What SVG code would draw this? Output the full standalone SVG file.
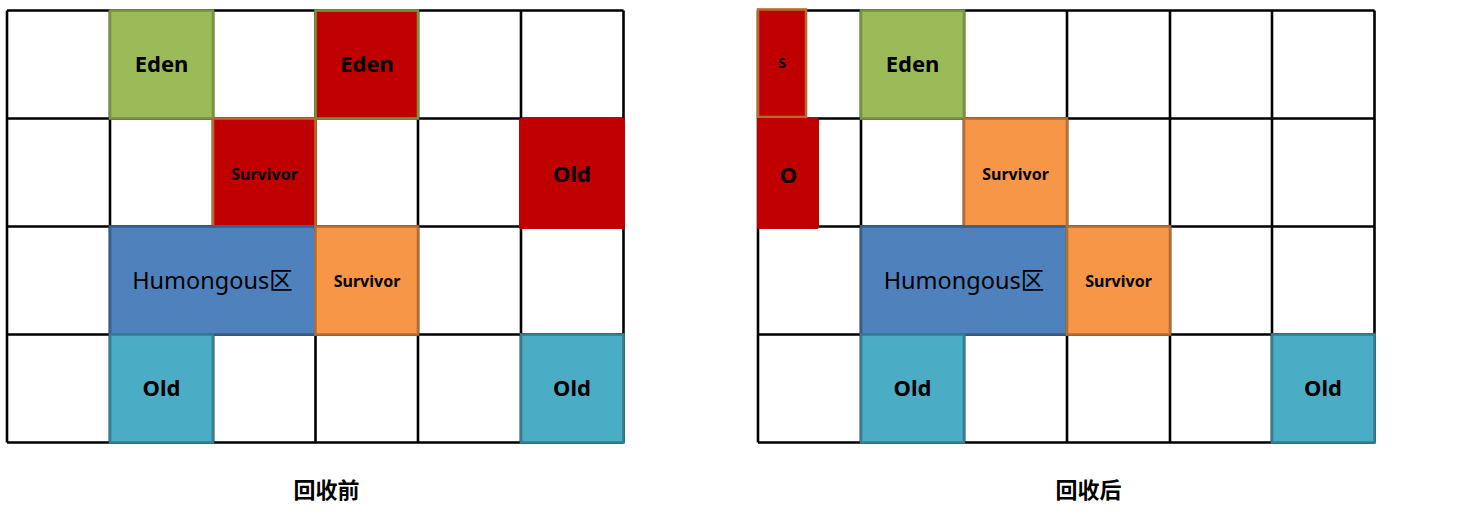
<svg xmlns="http://www.w3.org/2000/svg" width="1457" height="515" viewBox="0 0 1457 515">
<style>
.grid{fill:none;stroke:#000;stroke-width:2.6}
.eden{fill:#9BBB59;stroke:#76923C;stroke-width:2.6}
.edenr{fill:#C00000;stroke:#76923C;stroke-width:2.6}
.survr{fill:#C00000;stroke:#B7692F;stroke-width:2.6}
.surv{fill:#F79646;stroke:#B66D31;stroke-width:2.6}
.old{fill:#C00000}
.oldc{fill:#4BACC6;stroke:#357D91;stroke-width:2.6}
.hum{fill:#4F81BD;stroke:#385D8A;stroke-width:2.6}
.lb{font-family:"Noto Sans","Liberation Sans",sans-serif;font-weight:bold;fill:#000;text-anchor:middle}
.big{font-size:22px}
.sm{font-size:16px}
.hm{font-family:"Noto Sans","Noto Sans CJK SC",sans-serif;font-size:23.5px;fill:#000;text-anchor:middle}
.cap{font-family:"Noto Sans CJK SC",sans-serif;font-weight:bold;font-size:22px;fill:#000;text-anchor:middle}
</style>
<rect width="1457" height="515" fill="#fff"/>
<g id="connectors">
<path class="grid" d="M7,10.5V442.5M110,10.5V442.5M213,10.5V442.5M315.5,10.5V442.5M418,10.5V442.5M521,10.5V442.5M623.5,10.5V442.5M7,10.5H623.5M7,118.5H623.5M7,226.5H623.5M7,334.5H623.5M7,442.5H623.5"/>
<path class="grid" d="M758,10.5V442.5M861,10.5V442.5M964,10.5V442.5M1067,10.5V442.5M1170,10.5V442.5M1272,10.5V442.5M1374.5,10.5V442.5M758,10.5H1374.5M758,118.5H1374.5M758,226.5H1374.5M758,334.5H1374.5M758,442.5H1374.5"/>
</g>
<!-- before -->
<g id="b-eden1"><rect class="eden" x="110" y="10.5" width="103" height="108"/><text class="lb big" x="161.5" y="72">Eden</text></g>
<g id="b-eden2"><rect class="edenr" x="315.5" y="10.5" width="102.5" height="108"/><text class="lb big" x="367" y="72">Eden</text></g>
<g id="b-surv1"><rect class="survr" x="213" y="118.5" width="102.5" height="108"/><text class="lb sm" x="264.5" y="180">Survivor</text></g>
<g id="b-old1"><rect class="old" x="519" y="118" width="106" height="111" rx="2"/><text class="lb big" x="572" y="182">Old</text></g>
<g id="b-hum"><rect class="hum" x="110" y="226.5" width="205.5" height="108"/><text class="hm" x="212.5" y="289">Humongous区</text></g>
<g id="b-surv2"><rect class="surv" x="315.5" y="226.5" width="102.5" height="108"/><text class="lb sm" x="367" y="287">Survivor</text></g>
<g id="b-old2"><rect class="oldc" x="110" y="334.5" width="103" height="108"/><text class="lb big" x="161.5" y="396">Old</text></g>
<g id="b-old3"><rect class="oldc" x="521" y="334.5" width="102.5" height="108"/><text class="lb big" x="572" y="396">Old</text></g>
<g id="cap-before"><text class="cap" x="326.5" y="498">回收前</text></g>
<!-- after -->
<g id="a-s"><rect class="survr" x="758" y="9.5" width="48" height="107.5"/><text class="lb" style="font-size:14px" x="782" y="68">S</text></g>
<g id="a-o"><rect class="old" x="757" y="118" width="62" height="111" rx="2"/><text class="lb big" x="788.5" y="183">O</text></g>
<g id="a-eden"><rect class="eden" x="861" y="10.5" width="103" height="108"/><text class="lb big" x="912.5" y="72">Eden</text></g>
<g id="a-surv1"><rect class="surv" x="964" y="118.5" width="103" height="108"/><text class="lb sm" x="1015.5" y="180">Survivor</text></g>
<g id="a-hum"><rect class="hum" x="861" y="226.5" width="206" height="108"/><text class="hm" x="964" y="289">Humongous区</text></g>
<g id="a-surv2"><rect class="surv" x="1067" y="226.5" width="103" height="108"/><text class="lb sm" x="1118.5" y="287">Survivor</text></g>
<g id="a-old1"><rect class="oldc" x="861" y="334.5" width="103" height="108"/><text class="lb big" x="912.5" y="396">Old</text></g>
<g id="a-old2"><rect class="oldc" x="1272" y="334.5" width="102.5" height="108"/><text class="lb big" x="1323" y="396">Old</text></g>
<g id="cap-after"><text class="cap" x="1088.5" y="498">回收后</text></g>
</svg>
